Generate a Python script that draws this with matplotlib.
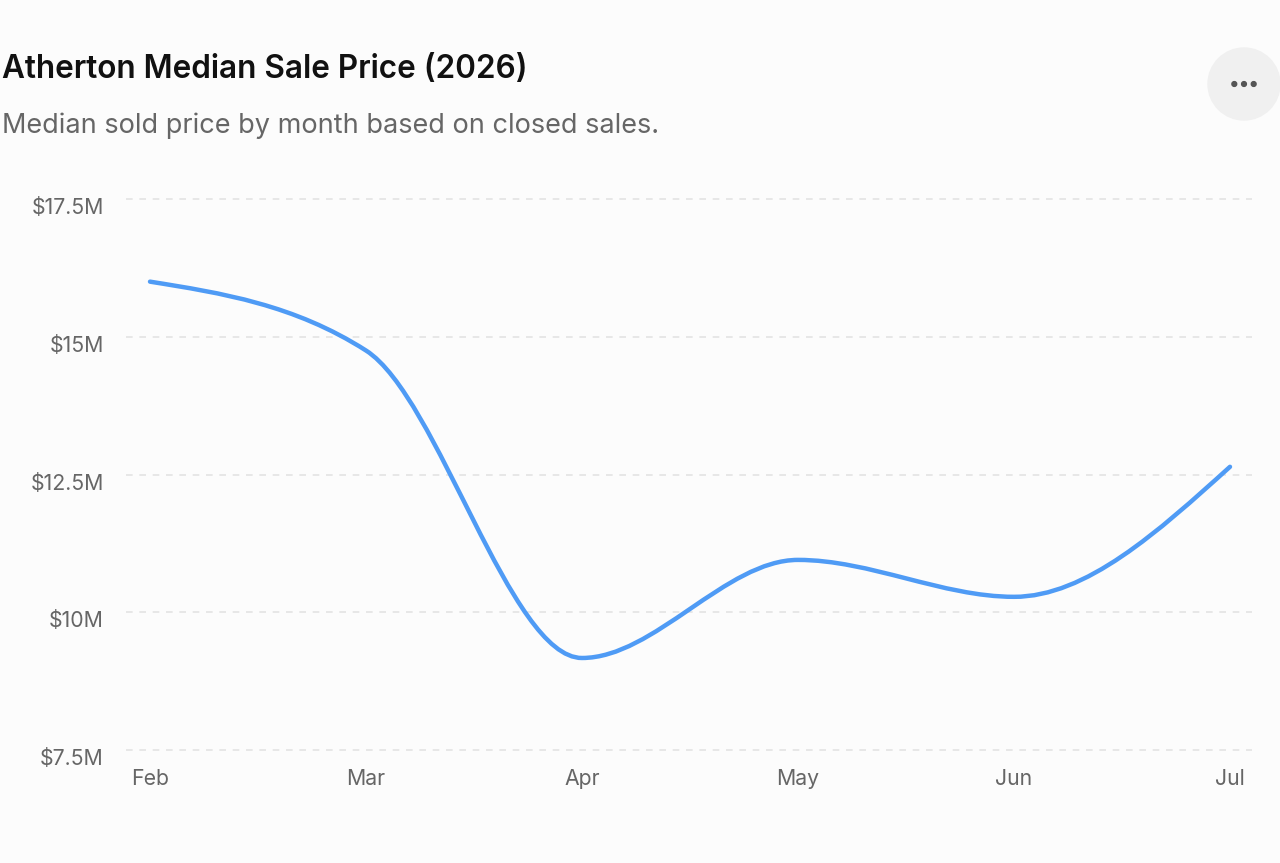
import numpy as np
import matplotlib.pyplot as plt
import matplotlib.transforms as mtransforms
from matplotlib.path import Path
from matplotlib.patches import PathPatch, Circle

plt.rcParams['font.family'] = ['Inter', 'DejaVu Sans']

# data (values in $M)
months = ['Feb', 'Mar', 'Apr', 'May', 'Jun', 'Jul']
median_price = [16.0, 14.75, 9.17, 10.95, 10.28, 12.64]
y_ticks = [7.5, 10, 12.5, 15, 17.5]
y_labels = ['$7.5M', '$10M', '$12.5M', '$15M', '$17.5M']


def monotone_path(xs, ys):
    # same shape as d3 curveMonotoneX
    xs = np.asarray(xs, float)
    ys = np.asarray(ys, float)
    n = len(xs)
    t = np.zeros(n)
    for i in range(1, n - 1):
        h0 = xs[i] - xs[i - 1]
        h1 = xs[i + 1] - xs[i]
        s0 = (ys[i] - ys[i - 1]) / h0
        s1 = (ys[i + 1] - ys[i]) / h1
        p = (s0 * h1 + s1 * h0) / (h0 + h1)
        t[i] = (np.sign(s0) + np.sign(s1)) * min(abs(s0), abs(s1), 0.5 * abs(p))
    h = xs[1] - xs[0]
    t[0] = (3 * (ys[1] - ys[0]) / h - t[1]) / 2
    h = xs[-1] - xs[-2]
    t[-1] = (3 * (ys[-1] - ys[-2]) / h - t[-2]) / 2
    verts = [(xs[0], ys[0])]
    codes = [Path.MOVETO]
    for i in range(n - 1):
        dx = (xs[i + 1] - xs[i]) / 3
        verts += [(xs[i] + dx, ys[i] + dx * t[i]),
                  (xs[i + 1] - dx, ys[i + 1] - dx * t[i + 1]),
                  (xs[i + 1], ys[i + 1])]
        codes += [Path.CURVE4] * 3
    return Path(verts, codes)


W, H = 1280, 863
fig = plt.figure(figsize=(W / 100, H / 100), dpi=100)
fig.patch.set_facecolor('#fcfcfc')

ax = fig.add_axes([126 / W, 1 - 750 / H, (1252 - 126) / W, (750 - 199) / H])
ax.set_facecolor('#fcfcfc')
x = np.arange(len(months))
ax.add_patch(PathPatch(monotone_path(x, median_price), fill=False,
                       edgecolor='#4f9bf5', lw=3.2, capstyle='round',
                       joinstyle='round'))
ax.set_xlim((126 - 150) / 216, 5 + 22 / 216)
ax.set_ylim(7.5, 17.5)
ax.set_xticks(x)
ax.set_xticklabels(months)
ax.set_yticks(y_ticks)
ax.set_yticklabels(y_labels)
for v in y_ticks:
    ax.axhline(v, color='#e3e3e3', lw=1.2, ls=(0, (4, 4)), zorder=0, clip_on=False)
for s in ax.spines.values():
    s.set_visible(False)
ax.tick_params(length=0, labelsize=15.3, labelcolor='#666666')
ax.tick_params(axis='x', pad=14)
ax.tick_params(axis='y', pad=16)
shift = mtransforms.ScaledTranslation(0, -7 / 100, fig.dpi_scale_trans)
for lab in ax.get_yticklabels():
    lab.set_transform(lab.get_transform() + shift)

fig.text(2 / W, 1 - 69 / H, 'Atherton Median Sale Price (2026)', fontsize=22.7,
         fontweight='semibold', color='#111111', va='center')
fig.text(2 / W, 1 - 126 / H, 'Median sold price by month based on closed sales.',
         fontsize=19.5, color='#666666', va='center')

# the "..." button
btn = fig.add_axes([0, 0, 1, 1], facecolor='none')
btn.set_xlim(0, W)
btn.set_ylim(H, 0)
btn.axis('off')
btn.add_patch(Circle((1244, 84), 36, color='#f0f0f0'))
for dx in (-9.7, 0, 9.7):
    btn.add_patch(Circle((1244 + dx, 84), 2.4, color='#555555'))

fig.savefig('out.png', dpi=100, facecolor=fig.get_facecolor())
